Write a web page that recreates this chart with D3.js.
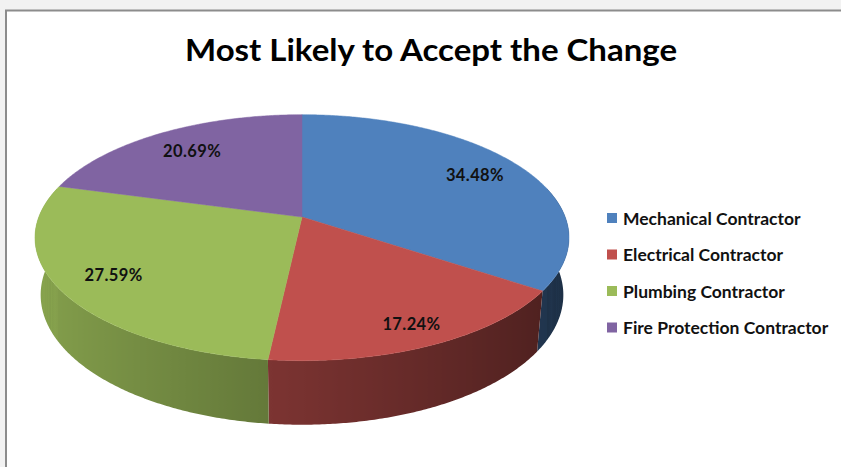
<!DOCTYPE html>
<html>
<head>
<meta charset="utf-8">
<script src="https://cdn.jsdelivr.net/npm/d3@7"></script>
<style>
  html, body { margin: 0; padding: 0; background: #ffffff; }
  svg { display: block; }
</style>
</head>
<body>
<svg id="chart" width="841" height="467"></svg>
<script>
// Chart content
const chartTitle = "Most Likely to Accept the Change";
const categories = ["Mechanical Contractor", "Electrical Contractor", "Plumbing Contractor", "Fire Protection Contractor"];
const shares = [34.48, 17.24, 27.59, 20.69];
const labels = ["34.48%", "17.24%", "27.59%", "20.69%"];
const colors = ["#4F81BD", "#C0504D", "#9BBB59", "#8064A2"];

// Radial position of each percentage label, as a fraction of the radius
const labelRadius = [0.79, 0.86, 0.80, 0.76];

const W = 841, H = 467;
const svg = d3.select("#chart");
const defs = svg.append("defs");

// Frame around the chart area
svg.append("rect").attr("x", 0).attr("y", 0).attr("width", W).attr("height", H).attr("fill", "#f2f2f2");
svg.append("rect").attr("x", 6).attr("y", 11).attr("width", W).attr("height", H).attr("fill", "#ffffff");
svg.append("line").attr("x1", 5).attr("x2", W).attr("y1", 10.5).attr("y2", 10.5)
  .attr("stroke", "#8c8c8c").attr("stroke-width", 2);
svg.append("line").attr("x1", 6).attr("x2", 6).attr("y1", 10).attr("y2", H)
  .attr("stroke", "#8c8c8c").attr("stroke-width", 2);

// Title
svg.append("text")
  .attr("x", 431).attr("y", 61)
  .attr("text-anchor", "middle")
  .attr("font-family", "Lato, 'Open Sans', sans-serif")
  .attr("font-weight", 700)
  .attr("font-size", 30)
  .attr("textLength", 492)
  .attr("lengthAdjust", "spacingAndGlyphs")
  .attr("fill", "#000")
  .text(chartTitle);

// 3D pie: disc of unit radius tilted toward the viewer, seen in perspective
const cam = { cx: 302, cy: 217, f: 1395, D: 5.30, tilt: 27 * Math.PI / 180, depth: 0.246 };
const sT = Math.sin(cam.tilt), cT = Math.cos(cam.tilt);

// angle: clockwise from 12 o'clock (same convention as d3.pie); r: radius; y: 0 top face, -depth bottom
function project(angle, r, y) {
  const x = r * Math.sin(angle);
  const z = -r * Math.cos(angle);
  const yv = y * cT - z * sT;
  const zv = y * sT + z * cT;
  const d = cam.D - zv;
  return { x: cam.cx + cam.f * x / d, y: cam.cy - cam.f * yv / d, dist: d };
}

// Side lighting: walls facing left are brightest, walls facing right darkest
function wallColor(i, angle) {
  const shade = Math.max(0.3, 0.62 - 0.25 * Math.sin(angle));
  const base = d3.rgb(colors[i]);
  return d3.rgb(base.r * shade, base.g * shade, base.b * shade).formatHex();
}

const pie = d3.pie().sort(null).value(d => d);
const arcs = pie(shares);
const line = d3.line();
const step = 0.5 * Math.PI / 180;

function samples(a0, a1) {
  const n = Math.max(2, Math.ceil((a1 - a0) / step));
  return d3.range(n + 1).map(k => a0 + (a1 - a0) * k / n);
}

// Outer walls of the front half, one shaded path per slice
const wallLo = Math.PI / 2 - 0.25, wallHi = 1.5 * Math.PI + 0.25;
const walls = svg.append("g");
arcs.forEach((a, i) => {
  const a0 = Math.max(a.startAngle, wallLo), a1 = Math.min(a.endAngle, wallHi);
  if (a1 <= a0) return;
  const ts = samples(a0, a1);
  const topPts = ts.map(t => project(t, 1, 0));
  const botPts = ts.map(t => project(t, 1, -cam.depth)).reverse();
  const xs = topPts.map(p => p.x);
  const x1 = d3.min(xs), x2 = d3.max(xs);
  const gid = "wall" + i;
  const grad = defs.append("linearGradient").attr("id", gid)
    .attr("gradientUnits", "userSpaceOnUse")
    .attr("x1", x1).attr("x2", x2).attr("y1", 0).attr("y2", 0);
  const stops = ts.map((t, k) => ({ off: (topPts[k].x - x1) / (x2 - x1 || 1), color: wallColor(i, t) }))
    .sort((p, q) => p.off - q.off);
  grad.selectAll("stop").data(stops).join("stop")
    .attr("offset", d => d.off)
    .attr("stop-color", d => d.color);
  const pts = topPts.concat(botPts).map(p => [p.x, p.y]);
  walls.append("path")
    .attr("d", line(pts) + "Z")
    .attr("fill", `url(#${gid})`);
});

// Top faces of the slices
const tops = svg.append("g");
tops.selectAll("path").data(arcs).join("path")
  .attr("d", a => {
    const c = project(0, 0, 0);
    const pts = [[c.x, c.y]].concat(samples(a.startAngle, a.endAngle).map(t => {
      const p = project(t, 1, 0);
      return [p.x, p.y];
    }));
    return line(pts) + "Z";
  })
  .attr("fill", (a, i) => colors[i])
  .attr("stroke", (a, i) => colors[i])
  .attr("stroke-width", 0.5);

// Percentage labels
svg.append("g").selectAll("text").data(arcs).join("text")
  .attr("x", (a, i) => project((a.startAngle + a.endAngle) / 2, labelRadius[i], 0).x)
  .attr("y", (a, i) => project((a.startAngle + a.endAngle) / 2, labelRadius[i], 0).y)
  .attr("text-anchor", "middle")
  .attr("dominant-baseline", "central")
  .attr("font-family", "Lato, 'Open Sans', sans-serif")
  .attr("font-weight", 700)
  .attr("font-size", 16.5)
  .attr("letter-spacing", 0.4)
  .attr("fill", "#111")
  .text((a, i) => labels[i]);

// Legend
const legend = svg.append("g").attr("transform", "translate(607,218)");
const rows = legend.selectAll("g").data(categories).join("g")
  .attr("transform", (d, i) => `translate(0,${i * 36.5})`);
rows.append("rect")
  .attr("x", 0).attr("y", -5).attr("width", 10).attr("height", 10)
  .attr("fill", (d, i) => colors[i]);
rows.append("text")
  .attr("x", 16).attr("y", 0)
  .attr("dominant-baseline", "central")
  .attr("font-family", "Lato, 'Open Sans', sans-serif")
  .attr("font-weight", 700)
  .attr("font-size", 17.5)
  .attr("fill", "#111")
  .text(d => d);
</script>
</body>
</html>
